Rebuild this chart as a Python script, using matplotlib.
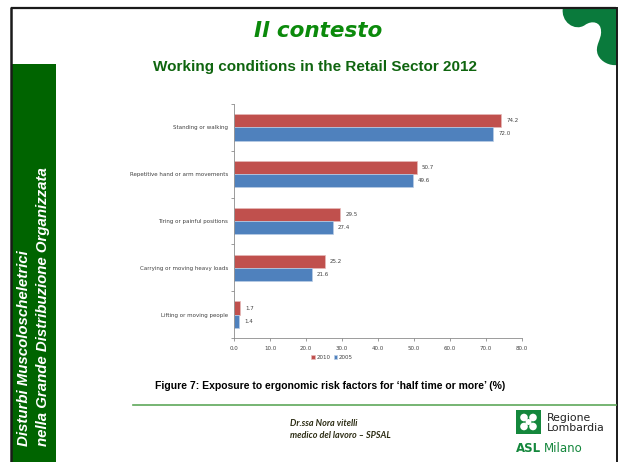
import matplotlib
matplotlib.use("Agg")
import matplotlib.pyplot as plt
import numpy as np
from matplotlib.patches import Rectangle, PathPatch, Circle
from matplotlib.path import Path

# ---- data ----
categories = ["Standing or walking", "Repetitive hand or arm movements",
              "Tiring or painful positions", "Carrying or moving heavy loads",
              "Lifting or moving people"]
values_2010 = [74.2, 50.7, 29.5, 25.2, 1.7]
values_2005 = [72.0, 49.6, 27.4, 21.6, 1.4]
series_labels = ["2010", "2005"]
x_ticks = [0, 10, 20, 30, 40, 50, 60, 70, 80]

RED = "#C0504D"
BLUE = "#4F81BD"

W, H = 620, 462
fig = plt.figure(figsize=(W / 100, H / 100), dpi=100)
fig.patch.set_facecolor("white")

# ---- background / slide decoration (pixel coordinates) ----
bg = fig.add_axes([0, 0, 1, 1], zorder=0)
bg.set_xlim(0, W)
bg.set_ylim(H, 0)
bg.axis("off")

# black frame
bg.plot([11, 616], [7.5, 7.5], color="#1a1a1a", lw=1.6, solid_capstyle="butt")
bg.plot([11, 11], [7, H], color="#1a1a1a", lw=1.8, solid_capstyle="butt")
bg.plot([616.5, 616.5], [7, H], color="#1a1a1a", lw=1.4, solid_capstyle="butt")

# left green band
bg.add_patch(Rectangle((12, 64), 44, H - 64, facecolor="#006400", edgecolor="none"))
bg.text(24.5, 446, "Disturbi Muscoloscheletrici", rotation=90, ha="center", va="bottom",
        color="white", fontsize=10.8, fontweight="bold", style="italic",
        family="Liberation Sans")
bg.text(43, 446, "nella Grande Distribuzione Organizzata", rotation=90, ha="center",
        va="bottom", color="white", fontsize=10.8, fontweight="bold", style="italic",
        family="Liberation Sans")

# top-right green shape
verts = [(563, 7),
         (560, 22), (575, 32), (585, 25),
         (592, 20), (601, 22), (601, 31),
         (602, 39), (594, 46), (598, 55),
         (601, 62), (610, 66), (617, 65),
         (617, 7), (563, 7)]
codes = [Path.MOVETO] + [Path.CURVE4] * 12 + [Path.LINETO, Path.CLOSEPOLY]
bg.add_patch(PathPatch(Path(verts, codes), facecolor="#0a7a3c", edgecolor="none"))

# titles
bg.text(318, 31, "Il contesto", ha="center", va="center", color="#0b8a0b",
        fontsize=15.5, fontweight="bold", style="italic", family="DejaVu Sans")
bg.text(315, 67, "Working conditions in the Retail Sector 2012", ha="center", va="center",
        color="#0f650f", fontsize=11, fontweight="bold", family="Liberation Sans")

# caption
bg.text(155, 386, "Figure 7: Exposure to ergonomic risk factors for \u2018half time or more\u2019 (%)",
        ha="left", va="center", color="black", fontsize=7.5, fontweight="bold",
        family="Liberation Sans")

# green separator line
bg.plot([133, 616], [405, 405], color="#5fa85a", lw=1.2)

# footer text
bg.text(290, 423, "Dr.ssa Nora vitelli", ha="left", va="center", color="#2d2d14",
        fontsize=6.5, fontweight="bold", style="italic", family="Lato")
bg.text(290, 435, "medico del lavoro \u2013 SPSAL", ha="left", va="center", color="#2d2d14",
        fontsize=6.5, fontweight="bold", style="italic", family="Lato")

# logo
bg.add_patch(Rectangle((516, 410), 25, 24, facecolor="#14873c", edgecolor="none"))
cx, cy = 528.5, 422
for dx, dy in [(-4.5, -4.5), (4.5, -4.5), (-4.5, 4.5), (4.5, 4.5)]:
    bg.add_patch(Circle((cx + dx, cy + dy), 3.8, facecolor="white", edgecolor="none"))
bg.add_patch(Circle((cx, cy), 3.0, facecolor="white", edgecolor="none"))
bg.text(547, 418, "Regione", ha="left", va="center", color="#222222", fontsize=7.8,
        family="DejaVu Sans")
bg.text(547, 428, "Lombardia", ha="left", va="center", color="#222222", fontsize=7.8,
        family="DejaVu Sans")
bg.text(516, 448, "ASL", ha="left", va="center", color="#14873c", fontsize=8.5,
        fontweight="bold", family="DejaVu Sans")
bg.text(544, 448, "Milano", ha="left", va="center", color="#14873c", fontsize=8.5,
        family="DejaVu Sans")

# ---- chart ----
ax = fig.add_axes([234 / W, 1 - 338 / H, 288 / W, 234 / H], zorder=2)
ax.set_facecolor("none")

y = np.arange(len(categories))
h = 0.28
ax.barh(y - h / 2, values_2010, height=h, color=RED, edgecolor="#e6b9b8",
        linewidth=0.5, label=series_labels[0])
ax.barh(y + h / 2, values_2005, height=h, color=BLUE, edgecolor="#b9cde5",
        linewidth=0.5, label=series_labels[1])

for yi, v in zip(y, values_2010):
    ax.text(v + 1.4, yi - h / 2, f"{v:.1f}", ha="left", va="center", fontsize=4,
            color="#404040", family="DejaVu Sans")
for yi, v in zip(y, values_2005):
    ax.text(v + 1.4, yi + h / 2, f"{v:.1f}", ha="left", va="center", fontsize=4,
            color="#404040", family="DejaVu Sans")

ax.set_xlim(0, 80)
ax.set_ylim(len(categories) - 0.5, -0.5)
ax.set_xticks(x_ticks)
ax.set_xticklabels([f"{t:.1f}" for t in x_ticks], fontsize=4, color="#404040",
                   family="DejaVu Sans")
ax.set_yticks(y)
ax.set_yticklabels(categories, fontsize=4, color="#404040", family="DejaVu Sans")
ax.set_yticks(np.arange(-0.5, len(categories), 1.0), minor=True)
ax.tick_params(axis="y", which="major", length=0, pad=4.5)
ax.tick_params(axis="y", which="minor", length=2.5, color="#8c8c8c", width=0.6,
               direction="out")
ax.tick_params(axis="x", which="major", length=2.5, color="#8c8c8c", width=0.6,
               direction="out", pad=3)
for s in ["top", "right"]:
    ax.spines[s].set_visible(False)
for s in ["left", "bottom"]:
    ax.spines[s].set_color("#8c8c8c")
    ax.spines[s].set_linewidth(0.6)

leg = ax.legend(loc="center", bbox_to_anchor=(0.34, -0.082), ncol=2, frameon=False,
                fontsize=4, handlelength=0.7, handleheight=0.7, handletextpad=0.2,
                columnspacing=0.6, borderpad=0)
for t in leg.get_texts():
    t.set_color("#404040")

fig.savefig("out.png", dpi=100, facecolor="white")
